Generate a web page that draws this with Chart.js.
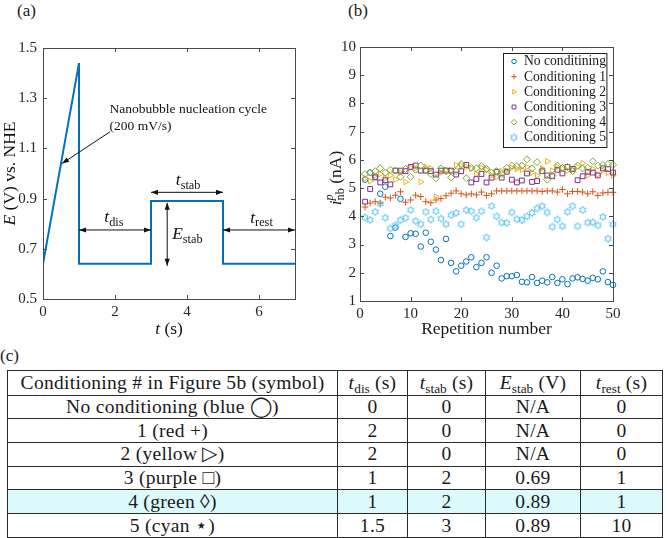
<!DOCTYPE html>
<html>
<head>
<meta charset="utf-8">
<script src="https://cdn.jsdelivr.net/npm/chart.js@4.4.1/dist/chart.umd.min.js"></script>
<style>
  body { margin: 0; width: 667px; height: 538px; position: relative; overflow: hidden; background: #fff; font-family: 'Liberation Serif', serif; color: #1a1a1a; }
  .tag { position: absolute; font-size: 17px; line-height: 1; }
  #wrapA { position: absolute; left: 0; top: 0; width: 312px; height: 345px; }
  #wrapB { position: absolute; left: 326px; top: 0; width: 341px; height: 345px; }
  #condTable { position: absolute; left: 7px; top: 370px; width: 655px; border-collapse: collapse; table-layout: fixed; font-size: 19.5px; letter-spacing: 0.3px; }
  #condTable td { border: 1px solid #2a2a2a; text-align: center; padding: 0; line-height: 1; white-space: nowrap; }
  #condTable tr { height: 23.7px; }
  #condTable tr.head { height: 24.5px; }
  #condTable tr.hl td { background: #dcfafc; }
  #condTable sub { font-size: 0.68em; vertical-align: -0.3em; line-height: 0; letter-spacing: 0; }
</style>
</head>
<body>
<div class="tag" style="left:17px; top:2px;">(a)</div>
<div class="tag" style="left:348px; top:2px;">(b)</div>
<div class="tag" style="left:0px; top:347px;">(c)</div>
<div id="wrapA"><canvas id="chartA"></canvas></div>
<div id="wrapB"><canvas id="chartB"></canvas></div>
<table id="condTable">
  <colgroup><col style="width:330px"><col style="width:70px"><col style="width:78px"><col style="width:95px"><col style="width:82px"></colgroup>
  <tbody id="condBody"></tbody>
</table>
<script>
// ---- panel (a): potential waveform ----
const timeA = [0, 1, 1, 3, 3, 5, 5, 7];
const potentialA = [0.64, 1.44, 0.64, 0.64, 0.89, 0.89, 0.64, 0.64];
const xTicksA = [0, 2, 4, 6];
const yTicksA = [0.5, 0.7, 0.9, 1.1, 1.3, 1.5];

// ---- panel (b): nanobubble peak current per repetition ----
const repNumbers = [1, 2, 3, 4, 5, 6, 7, 8, 9, 10, 11, 12, 13, 14, 15, 16, 17, 18, 19, 20, 21, 22, 23, 24, 25,
  26, 27, 28, 29, 30, 31, 32, 33, 34, 35, 36, 37, 38, 39, 40, 41, 42, 43, 44, 45, 46, 47, 48, 49, 50];
const noCond = [5.3, 5.55, 5.4, 4.8, 5.05, 3.3, 3.6, 4.62, 3.27, 3.4, 3.38, 2.93, 3.42, 3.1, 2.82, 2.45, 3.2, 2.35, 2.05, 2.25,
  2.4, 2.55, 2.2, 2.35, 2.55, 2.0, 2.25, 1.8, 1.88, 1.88, 1.92, 1.68, 1.66, 1.85, 1.64, 1.72, 1.66, 1.85, 1.64, 1.77,
  1.6, 1.8, 1.84, 1.78, 1.72, 1.82, 1.77, 2.05, 1.67, 1.57];
const cond1 = [4.33, 4.47, 4.52, 4.47, 4.68, 4.65, 4.75, 4.87, 4.5, 4.58, 4.75, 4.7, 4.52, 4.48, 4.58, 4.63, 4.73, 4.82, 4.9, 4.8,
  4.76, 4.8, 4.76, 4.86, 4.74, 4.8, 4.9, 4.9, 4.9, 4.9, 4.9, 4.9, 4.9, 4.9, 4.9, 4.88, 4.9, 4.9, 4.86, 4.95,
  4.8, 4.88, 4.88, 4.86, 4.8, 4.87, 4.74, 4.83, 4.85, 4.85];
const cond2 = [5.35, 5.25, 5.45, 5.5, 5.35, 5.45, 5.3, 5.55, 5.22, 5.72, 5.7, 5.22, 5.75, 5.7, 4.7, 5.55, 5.65, 5.62, 5.82, 5.8,
  5.75, 5.7, 5.5, 5.72, 5.65, 5.45, 5.4, 5.6, 5.62, 5.72, 5.68, 5.65, 5.75, 5.55, 5.45, 5.7, 5.95, 5.62, 5.75, 5.7,
  5.62, 5.65, 5.75, 5.88, 5.45, 5.68, 5.48, 5.62, 5.55, 5.45];
const cond3 = [4.52, 4.97, 5.38, 5.2, 5.28, 5.13, 5.62, 5.62, 5.6, 5.75, 5.8, 5.62, 5.62, 5.6, 5.48, 5.62, 5.62, 5.62, 5.48, 5.6,
  5.82, 5.2, 5.32, 5.5, 5.2, 5.37, 5.58, 5.37, 5.58, 5.3, 5.2, 5.27, 5.52, 5.22, 5.25, 5.6, 5.45, 5.42, 5.65, 5.52,
  5.75, 5.68, 5.28, 5.42, 5.58, 5.55, 5.45, 5.7, 5.68, 5.55];
const cond4 = [5.5, 5.55, 5.6, 5.7, 5.55, 5.65, 5.62, 5.4, 5.68, 5.4, 5.65, 5.8, 5.65, 5.5, 5.35, 5.7, 5.6, 5.38, 5.6, 5.85,
  5.35, 5.72, 5.7, 5.78, 5.68, 5.55, 5.6, 5.5, 5.72, 5.8, 5.78, 5.8, 6.02, 5.7, 5.92, 5.62, 5.3, 5.45, 5.8, 5.72,
  5.75, 5.6, 5.8, 5.7, 5.72, 5.95, 5.8, 5.82, 5.85, 5.82];
const cond5 = [3.96, 3.87, 4.16, 4.45, 3.95, 3.57, 3.68, 3.87, 3.95, 4.22, 3.83, 3.72, 4.16, 3.89, 4.18, 3.92, 3.72, 4.04, 4.12, 3.72,
  4.22, 4.18, 3.95, 4.18, 3.25, 4.36, 4.0, 3.78, 3.77, 4.14, 3.9, 3.87, 4.0, 4.12, 4.28, 4.36, 4.14, 3.63, 3.89, 3.65,
  4.16, 4.36, 3.65, 4.22, 3.78, 3.79, 3.68, 3.98, 3.21, 3.72];
const xTicksB = [0, 10, 20, 30, 40, 50];
const yTicksB = [1, 2, 3, 4, 5, 6, 7, 8, 9, 10];

// ---- panel (c): table ----
const tableHead = ['Conditioning # in Figure 5b (symbol)', '<i>t</i><sub>dis</sub> (s)', '<i>t</i><sub>stab</sub> (s)', '<i>E</i><sub>stab</sub> (V)', '<i>t</i><sub>rest</sub> (s)'];
const tableRows = [
  ['No conditioning (blue \u25EF)', '0', '0', 'N/A', '0'],
  ['1 (red +)', '2', '0', 'N/A', '0'],
  ['2 (yellow \u25B7)', '2', '0', 'N/A', '0'],
  ['3 (purple \u25A1)', '1', '2', '0.69', '1'],
  ['4 (green \u25CA)', '1', '2', '0.89', '1'],
  ['5 (cyan \u22C6)', '1.5', '3', '0.89', '10']
];
const highlightRow = 4;

Chart.defaults.font.family = "'Liberation Serif', serif";
Chart.defaults.color = '#262626';

const SERIF = '"Liberation Serif", serif';

// rich text: parts are [text, style] with style n | i | sub | supsub (text = sup, third = sub)
function richText(ctx, parts, cx, cy, size, rotate, align) {
  const small = size * 0.7;
  const font = (sz, it) => (it ? 'italic ' : '') + sz + 'px ' + SERIF;
  const widthOf = p => {
    if (p[1] === 'supsub') {
      ctx.font = font(small, true); const a = ctx.measureText(p[0]).width;
      ctx.font = font(small, false); const b = ctx.measureText(p[2]).width;
      return Math.max(a, b);
    }
    ctx.font = font(p[1] === 'sub' ? small : size, p[1] === 'i');
    return ctx.measureText(p[0]).width;
  };
  const total = parts.reduce((s, p) => s + widthOf(p), 0);
  ctx.save();
  ctx.translate(cx, cy);
  if (rotate) ctx.rotate(-Math.PI / 2);
  ctx.textAlign = 'left';
  ctx.textBaseline = 'alphabetic';
  let x = align === 'left' ? 0 : -total / 2;
  const base = size * 0.32;
  parts.forEach(p => {
    const w = widthOf(p);
    if (p[1] === 'supsub') {
      ctx.font = font(small, true); ctx.fillText(p[0], x, base - size * 0.42);
      ctx.font = font(small, false); ctx.fillText(p[2], x, base + size * 0.22);
    } else {
      ctx.font = font(p[1] === 'sub' ? small : size, p[1] === 'i');
      ctx.fillText(p[0], x, base + (p[1] === 'sub' ? size * 0.22 : 0));
    }
    x += w;
  });
  ctx.restore();
}

function arrowHead(ctx, x1, y1, x2, y2) {
  const ang = Math.atan2(y2 - y1, x2 - x1), L = 7, W = 2.6;
  ctx.beginPath();
  ctx.moveTo(x2, y2);
  ctx.lineTo(x2 - L * Math.cos(ang) + W * Math.sin(ang), y2 - L * Math.sin(ang) - W * Math.cos(ang));
  ctx.lineTo(x2 - L * Math.cos(ang) - W * Math.sin(ang), y2 - L * Math.sin(ang) + W * Math.cos(ang));
  ctx.closePath();
  ctx.fill();
}

function arrow(ctx, x1, y1, x2, y2, both) {
  ctx.beginPath(); ctx.moveTo(x1, y1); ctx.lineTo(x2, y2); ctx.stroke();
  arrowHead(ctx, x1, y1, x2, y2);
  if (both) arrowHead(ctx, x2, y2, x1, y1);
}

// MATLAB style box with inward ticks on all sides
const matlabFrame = {
  id: 'matlabFrame',
  afterDatasetsDraw(chart) {
    const { ctx, chartArea: a, scales: { x, y } } = chart;
    ctx.save();
    ctx.strokeStyle = '#4a4a4a';
    ctx.lineWidth = 1;
    ctx.strokeRect(Math.round(a.left) + 0.5, Math.round(a.top) + 0.5, Math.round(a.right - a.left), Math.round(a.bottom - a.top));
    ctx.beginPath();
    x.ticks.forEach(t => {
      const px = Math.round(x.getPixelForValue(t.value)) + 0.5;
      ctx.moveTo(px, a.bottom); ctx.lineTo(px, a.bottom - 4);
      ctx.moveTo(px, a.top); ctx.lineTo(px, a.top + 4);
    });
    y.ticks.forEach(t => {
      const py = Math.round(y.getPixelForValue(t.value)) + 0.5;
      ctx.moveTo(a.left, py); ctx.lineTo(a.left + 4, py);
      ctx.moveTo(a.right, py); ctx.lineTo(a.right - 4, py);
    });
    ctx.stroke();
    ctx.restore();
  }
};

const spanArrows = [
  { x1: 1, y1: 0.775, x2: 3, y2: 0.775 },
  { x1: 3, y1: 0.925, x2: 5, y2: 0.925 },
  { x1: 5, y1: 0.775, x2: 7, y2: 0.775 },
  { x1: 3.45, y1: 0.632, x2: 3.45, y2: 0.883 }
];

const annotA = {
  id: 'annotA',
  afterDraw(chart) {
    const { ctx, chartArea: a, scales: { x, y } } = chart;
    const X = v => x.getPixelForValue(v), Y = v => y.getPixelForValue(v);
    ctx.save();
    ctx.strokeStyle = '#111';
    ctx.fillStyle = '#111';
    ctx.lineWidth = 1;
    spanArrows.forEach(s => arrow(ctx, X(s.x1), Y(s.y1), X(s.x2), Y(s.y2), true));
    arrow(ctx, X(1.86), Y(1.166), X(0.53), Y(1.04), false);
    richText(ctx, [['t', 'i'], ['dis', 'sub']], X(1.97), Y(0.83), 17.5);
    richText(ctx, [['t', 'i'], ['stab', 'sub']], X(4.03), Y(0.975), 17.5);
    richText(ctx, [['t', 'i'], ['rest', 'sub']], X(6.07), Y(0.827), 17.5);
    richText(ctx, [['E', 'i'], ['stab', 'sub']], X(4.01), Y(0.76), 17.5);
    ctx.font = '13.5px ' + SERIF;
    ctx.textAlign = 'left';
    ctx.textBaseline = 'middle';
    ctx.fillText('Nanobubble nucleation cycle', X(1.85), Y(1.255));
    ctx.fillText('(200 mV/s)', X(1.85), Y(1.186));
    // axis titles
    richText(ctx, [['t', 'i'], [' (s)', 'n']], (a.left + a.right) / 2, 328, 17.5);
    richText(ctx, [['E', 'i'], [' (V) vs. NHE', 'n']], 9, (a.top + a.bottom) / 2, 17.5, true);
    ctx.restore();
  }
};

new Chart(document.getElementById('chartA'), {
  type: 'scatter',
  data: {
    datasets: [{
      data: timeA.map((t, i) => ({ x: t, y: potentialA[i] })),
      showLine: true,
      borderColor: '#0072BD',
      borderWidth: 2,
      pointRadius: 0,
      tension: 0
    }]
  },
  options: {
    responsive: true,
    maintainAspectRatio: false,
    animation: false,
    events: [],
    layout: { padding: { top: 48, right: 17, left: 0, bottom: 0 } },
    plugins: { legend: { display: false }, tooltip: { enabled: false } },
    scales: {
      x: {
        type: 'linear', min: 0, max: 7,
        afterBuildTicks: s => { s.ticks = xTicksA.map(v => ({ value: v })); },
        afterFit: s => { s.height = 46; },
        grid: { display: false, drawTicks: false },
        border: { display: false },
        ticks: { font: { size: 15 }, padding: 4, maxRotation: 0 }
      },
      y: {
        type: 'linear', min: 0.5, max: 1.5,
        afterBuildTicks: s => { s.ticks = yTicksA.map(v => ({ value: v })); },
        afterFit: s => { s.width = 43; },
        grid: { display: false, drawTicks: false },
        border: { display: false },
        ticks: { font: { size: 15 }, padding: 6, callback: v => v.toFixed(1) }
      }
    }
  },
  plugins: [matlabFrame, annotA]
});

// six-pointed star outline like MATLAB 'hexagram' marker
function hexagram(color) {
  const c = document.createElement('canvas');
  c.width = 10; c.height = 10;
  const g = c.getContext('2d');
  g.strokeStyle = color;
  g.lineWidth = 0.9;
  g.beginPath();
  for (let k = 0; k < 12; k++) {
    const ang = (-90 + k * 30) * Math.PI / 180;
    const r = k % 2 ? 2.0 : 3.7;
    const px = 5 + r * Math.cos(ang), py = 5 + r * Math.sin(ang);
    if (k) g.lineTo(px, py); else g.moveTo(px, py);
  }
  g.closePath();
  g.stroke();
  return c;
}

const seriesB = [
  { label: 'No conditining', values: noCond, color: '#0072BD', style: 'circle', r: 2.8, rot: 0 },
  { label: 'Conditioning 1', values: cond1, color: '#D95319', style: 'cross', r: 3.3, rot: 0 },
  { label: 'Conditioning 2', values: cond2, color: '#EDB120', style: 'triangle', r: 3.3, rot: 90 },
  { label: 'Conditioning 3', values: cond3, color: '#7E2F8E', style: 'rect', r: 3.4, rot: 0 },
  { label: 'Conditioning 4', values: cond4, color: '#77AC30', style: 'rectRot', r: 3.5, rot: 0 },
  { label: 'Conditioning 5', values: cond5, color: '#4DBEEE', style: hexagram('#4DBEEE'), r: 3.5, rot: 0 }
];

const legendB = {
  id: 'legendB',
  afterDraw(chart) {
    const { ctx, chartArea: a } = chart;
    const w = 103.4, h = 94;
    const right = a.right - 6.3, top = a.top + 6, left = right - w;
    ctx.save();
    ctx.fillStyle = '#fff';
    ctx.fillRect(left, top, w, h);
    ctx.strokeStyle = '#222';
    ctx.lineWidth = 1;
    ctx.strokeRect(Math.round(left) + 0.5, Math.round(top) + 0.5, w, h);
    chart.data.datasets.forEach((ds, i) => {
      const cy = top + 8.4 + i * 15.2;
      const mx = left + 10.7;
      ctx.strokeStyle = ds.borderColor;
      ctx.fillStyle = 'rgba(0,0,0,0)';
      ctx.lineWidth = 1;
      Chart.helpers.drawPoint(ctx, { pointStyle: ds.pointStyle, rotation: ds.pointRotation, radius: ds.pointRadius * 0.8, borderWidth: 1 }, mx, cy);
      ctx.fillStyle = '#1a1a1a';
      ctx.font = '13.6px ' + SERIF;
      ctx.textAlign = 'left';
      ctx.textBaseline = 'middle';
      ctx.fillText(ds.label, left + 20.7, cy + 0.5);
    });
    // axis titles
    ctx.fillStyle = '#1a1a1a';
    richText(ctx, [['Repetition number', 'n']], (a.left + a.right) / 2, 328, 17.5);
    richText(ctx, [['i', 'i'], ['p', 'supsub', 'nb'], [' (nA)', 'n']], 9, (a.top + a.bottom) / 2 + 4, 17.5, true);
    ctx.restore();
  }
};

new Chart(document.getElementById('chartB'), {
  type: 'scatter',
  data: {
    datasets: seriesB.map((s, i) => ({
      label: s.label,
      data: repNumbers.map((r, k) => ({ x: r, y: s.values[k] })),
      borderColor: s.color,
      backgroundColor: 'rgba(0,0,0,0)',
      pointStyle: s.style,
      pointRotation: s.rot,
      pointRadius: s.r,
      pointBorderWidth: 1,
      clip: false,
      order: seriesB.length - i
    }))
  },
  options: {
    responsive: true,
    maintainAspectRatio: false,
    animation: false,
    events: [],
    layout: { padding: { top: 47, right: 54, left: 0, bottom: 0 } },
    plugins: { legend: { display: false }, tooltip: { enabled: false } },
    scales: {
      x: {
        type: 'linear', min: 0, max: 50,
        afterBuildTicks: s => { s.ticks = xTicksB.map(v => ({ value: v })); },
        afterFit: s => { s.height = 44; },
        grid: { display: false, drawTicks: false },
        border: { display: false },
        ticks: { font: { size: 15 }, padding: 4, maxRotation: 0 }
      },
      y: {
        type: 'linear', min: 1, max: 10,
        afterBuildTicks: s => { s.ticks = yTicksB.map(v => ({ value: v })); },
        afterFit: s => { s.width = 34; },
        grid: { display: false, drawTicks: false },
        border: { display: false },
        ticks: { font: { size: 15 }, padding: 4 }
      }
    }
  },
  plugins: [matlabFrame, legendB]
});

// table (c)
const body = document.getElementById('condBody');
body.innerHTML = '<tr class="head">' + tableHead.map(h => '<td>' + h + '</td>').join('') + '</tr>' +
  tableRows.map((row, i) => '<tr' + (i === highlightRow ? ' class="hl"' : '') + '>' + row.map(c => '<td>' + c + '</td>').join('') + '</tr>').join('');
</script>
</body>
</html>
